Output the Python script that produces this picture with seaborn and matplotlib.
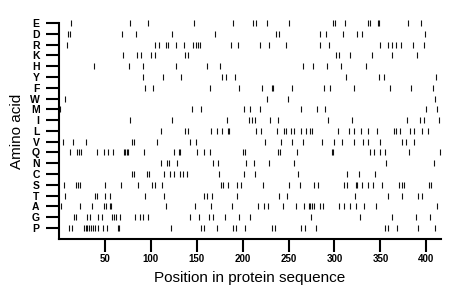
import pandas as pd
import matplotlib
matplotlib.use("Agg")
import matplotlib.pyplot as plt
import seaborn as sns

# Ordem dos aminoácidos (de cima para baixo)
amino_acids = ["E", "D", "R", "K", "H", "Y", "F", "W", "M", "I",
               "L", "V", "Q", "N", "C", "S", "T", "A", "G", "P"]

# Posições de cada aminoácido na sequência
pos_E = [13, 77, 97, 147, 190, 211, 214, 226, 251, 298, 301, 311, 336, 339, 347, 348, 380, 394]
pos_D = [10, 12, 69, 84, 123, 170, 236, 240, 284, 291, 309, 325, 330, 399]
pos_R = [9, 105, 109, 116, 119, 127, 136, 146, 149, 151, 154, 187, 195, 219, 229, 247,
         284, 294, 350, 358, 363, 367, 372, 386, 398]
pos_K = [70, 85, 89, 100, 104, 137, 140, 302, 305, 317, 341, 363, 390]
pos_H = [38, 76, 91, 127, 161, 175, 266, 277, 292, 307, 334]
pos_Y = [91, 113, 133, 178, 182, 192, 313, 349, 354, 411]
pos_F = [94, 102, 164, 196, 221, 232, 233, 254, 289, 295, 321, 361, 383, 407]
pos_W = [7, 227, 249, 409]
pos_M = [1, 145, 155, 201, 208, 219, 263, 281, 290, 400, 412]
pos_I = [77, 123, 183, 207, 210, 213, 230, 238, 293, 319, 379, 393, 398, 414]
pos_L = [111, 137, 140, 166, 172, 178, 184, 185, 215, 220, 237, 245, 247, 253, 256, 264,
         269, 273, 276, 304, 316, 321, 329, 337, 346, 365, 367, 371, 382, 387, 395, 402]
pos_V = [4, 15, 29, 80, 82, 107, 143, 149, 224, 242, 254, 266, 286, 299, 308, 321, 331,
         336, 350, 374, 378, 387]
pos_Q = [12, 20, 22, 24, 41, 49, 53, 59, 71, 72, 74, 75, 93, 125, 131, 132, 150, 158, 164,
         200, 203, 238, 241, 259, 297, 298, 339, 343, 350, 355, 381, 415]
pos_N = [111, 118, 120, 129, 168, 173, 204, 212, 229, 256, 356, 408]
pos_C = [79, 82, 96, 98, 114, 121, 125, 132, 135, 139, 174, 201, 213, 260, 314, 327, 344]
pos_S = [5, 18, 21, 23, 50, 68, 86, 101, 105, 112, 176, 179, 184, 194, 198, 222, 250, 262,
         278, 282, 310, 314, 323, 325, 330, 337, 342, 352, 370, 374, 376, 403, 405]
pos_T = [6, 39, 41, 50, 55, 94, 114, 158, 161, 167, 194, 240, 248, 322, 358, 373, 391, 395]
pos_A = [2, 23, 36, 49, 51, 55, 57, 117, 148, 166, 188, 217, 223, 228, 244, 258, 267, 272,
         273, 275, 278, 284, 288, 305, 310, 317, 323, 332, 345, 412]
pos_G = [16, 19, 31, 34, 43, 47, 58, 60, 62, 66, 83, 88, 92, 97, 143, 152, 163, 168, 181,
         196, 208, 274, 328, 363, 389, 404]
pos_P = [11, 14, 27, 29, 31, 33, 35, 37, 39, 43, 48, 52, 64, 65, 122, 155, 158, 172, 190,
         193, 203, 232, 235, 264, 268, 280, 355, 358, 368, 391, 410]

positions = [pos_E, pos_D, pos_R, pos_K, pos_H, pos_Y, pos_F, pos_W, pos_M, pos_I,
             pos_L, pos_V, pos_Q, pos_N, pos_C, pos_S, pos_T, pos_A, pos_G, pos_P]

x_ticks = [50, 100, 150, 200, 250, 300, 350, 400]

# Montar o DataFrame em formato longo
rows = []
for i, (aa, pos) in enumerate(zip(amino_acids, positions)):
    for p in pos:
        rows.append({"Aminoácido": aa, "Posição": p, "linha": len(amino_acids) - 1 - i})
df = pd.DataFrame(rows)

sns.set_style("white")
plt.rcParams["font.family"] = ["Liberation Sans", "DejaVu Sans"]
plt.rcParams["text.color"] = "black"
plt.rcParams["axes.labelcolor"] = "black"

fig = plt.figure(figsize=(4.6, 2.99), dpi=100)
ax = fig.add_axes([59 / 460, 60 / 299, 382 / 460, 216 / 299])

sns.scatterplot(data=df, x="Posição", y="linha", marker="|", s=14, linewidth=0.8,
                color="#111111", ax=ax, clip_on=False, legend=False)

ax.set_xlim(0, 416)
ax.set_ylim(-1.02, len(amino_acids) - 1)

ax.set_yticks(range(len(amino_acids)))
ax.set_yticklabels(amino_acids[::-1], fontsize=7.5, fontweight="bold")
ax.set_xticks(x_ticks)
ax.set_xticklabels([str(t) for t in x_ticks], fontsize=7, fontweight="bold")

ax.tick_params(axis="y", length=9.5, width=1.5, pad=4.5, left=True,
               color="black", labelcolor="black")
ax.tick_params(axis="x", length=9.5, width=1.5, pad=1, bottom=True,
               color="black", labelcolor="black")

for side in ["top", "right"]:
    ax.spines[side].set_visible(False)
for side in ["left", "bottom"]:
    ax.spines[side].set_linewidth(1.5)
    ax.spines[side].set_color("black")

ax.set_xlabel("Position in protein sequence", fontsize=11, labelpad=5, color="black")
ax.set_ylabel("Amino acid", fontsize=11, labelpad=4, color="black")

fig.savefig("out.png", dpi=100)
